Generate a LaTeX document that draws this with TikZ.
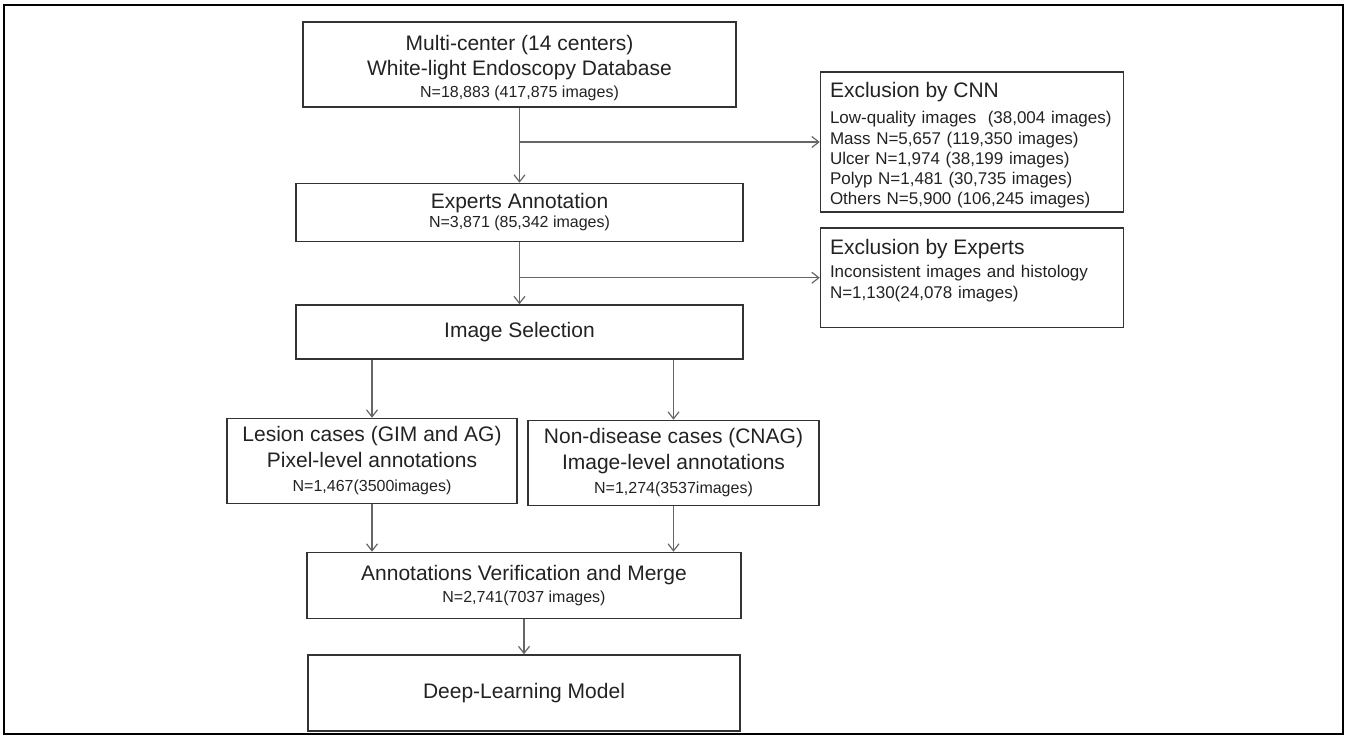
\documentclass[tikz,border=0pt]{standalone}
\usepackage{fontspec}
\setmainfont{Liberation Sans}
\usetikzlibrary{arrows.meta,positioning}
\definecolor{boxline}{HTML}{333333}
\definecolor{arrowline}{HTML}{666666}
\definecolor{textcol}{HTML}{222222}
\newcommand{\titlefont}{\fontsize{10.5}{13}\selectfont}
\newcommand{\countfont}{\fontsize{8}{10}\selectfont}
\newcommand{\listfont}{\fontsize{8.5}{10.1}\selectfont}

\begin{document}
\begin{tikzpicture}[
  box/.style={draw=boxline,line width=0.75pt,align=center,inner sep=2pt,
              text=textcol,font=\titlefont},
  sidebox/.style={draw=boxline,line width=0.75pt,align=left,text width=142pt,
                  inner xsep=4.75pt,inner ysep=1pt,text=textcol,font=\listfont},
  link/.style={-{Straight Barb[length=3.5pt,width=5.5pt]},line width=0.6pt,draw=arrowline}
]
\useasboundingbox (0,0) rectangle (674.5pt,-368.5pt);
\draw[line width=1pt] (2pt,-2.5pt) rectangle (671.5pt,-367pt);
\node[box,minimum width=216.5pt,minimum height=42.5pt] (database) at (259.75pt,-32.25pt)
  {\rule{0pt}{11.5pt}Multi-center (14 centers)\\[-0.5pt]
   White-light Endoscopy Database\\[-2pt]
   {\countfont N=18,883 (417,875 images)}};
\node[box,minimum width=223.5pt,minimum height=29pt,below=37.5pt of database] (experts)
  {Experts Annotation\\[-3.5pt]
   {\countfont N=3,871 (85,342 images)}};
\node[box,minimum width=223.5pt,minimum height=27pt,below=31pt of experts] (selection)
  {Image Selection};
\node[box,minimum width=145pt,minimum height=42.5pt,below=29pt of selection,xshift=-73.75pt] (lesion)
  {Lesion cases (GIM and AG)\\
   Pixel-level annotations\\[-1pt]
   {\countfont N=1,467(3500images)}};
\node[box,minimum width=145.5pt,minimum height=42.5pt,below=30pt of selection,xshift=77pt] (nondisease)
  {Non-disease cases (CNAG)\\
   Image-level annotations\\[-1pt]
   {\countfont N=1,274(3537images)}};
\node[box,minimum width=217pt,minimum height=33pt,below=96pt of selection,xshift=2.25pt] (merge)
  {Annotations Verification and Merge\\[-2pt]
   {\countfont N=2,741(7037 images)}};
\node[box,minimum width=216pt,minimum height=38pt,below=17.5pt of merge] (model)
  {Deep-Learning Model};
\node[sidebox,minimum height=70pt,right=41.5pt of database,yshift=-38.75pt] (cnn)
  {{\titlefont\rule{0pt}{11pt}Exclusion by CNN}\\[3pt]
   Low-quality images\ \ (38,004 images)\\
   Mass N=5,657 (119,350 images)\\
   Ulcer N=1,974 (38,199 images)\\
   Polyp N=1,481 (30,735 images)\\
   Others N=5,900 (106,245 images)};
\node[sidebox,minimum height=49.75pt,below=7.25pt of cnn] (expx)
  {{\titlefont Exclusion by Experts}\\[1.5pt]
   Inconsistent images and histology\\
   N=1,130(24,078 images)\rule[-9pt]{0pt}{0pt}};
\coordinate (split1) at (database.south |- cnn.west);
\coordinate (split2) at (experts.south |- expx.west);
\draw[link] (database) -- (experts);
\draw[link] (split1) -- (cnn);
\draw[link] (experts) -- (selection);
\draw[link] (split2) -- (expx);
\draw[link] (selection.south -| lesion) -- (lesion);
\draw[link] (selection.south -| nondisease) -- (nondisease);
\draw[link] (lesion) -- (merge.north -| lesion);
\draw[link] (nondisease) -- (merge.north -| nondisease);
\draw[link] (merge) -- (model);
\end{tikzpicture}
\end{document}
